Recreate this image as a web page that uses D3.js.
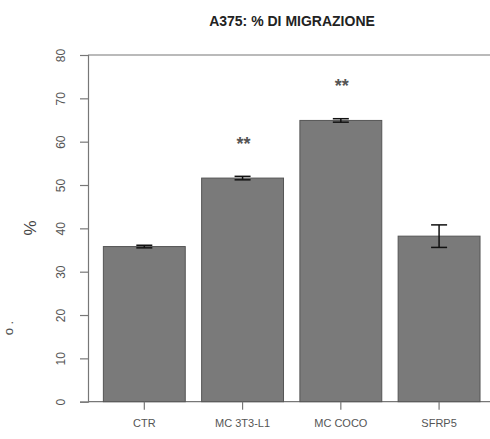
<!DOCTYPE html>
<html><head><meta charset="utf-8">
<script src="https://cdn.jsdelivr.net/npm/d3@7"></script>
<style>body{margin:0;background:#fff}svg{display:block}</style>
</head><body>
<script>
const categories = ["CTR", "MC 3T3-L1", "MC COCO", "SFRP5"];
const values = [35.8, 51.6, 64.9, 38.2];
const errors = [0.3, 0.4, 0.4, 2.6];
const stars = ["", "**", "**", ""];
const yTicks = [0, 10, 20, 30, 40, 50, 60, 70, 80];
const title = "A375: % DI MIGRAZIONE";
const yLabel = "%";

const W = 490, H = 439;
const svg = d3.select("body").append("svg").attr("width", W).attr("height", H);
const font = "'Liberation Sans', Arial, sans-serif";

const y = d3.scaleLinear().domain([0, 80]).range([401.7, 55]);
const x = d3.scaleBand().domain(categories).range([87, 496.4])
  .paddingInner(0.2/1.2).paddingOuter(0.2/1.2);

// title
svg.append("text").attr("x", 292).attr("y", 26).attr("text-anchor", "middle")
  .attr("font-family", font).attr("font-weight", "bold").attr("font-size", 14)
  .attr("fill", "#222").text(title);

// top line & baseline
svg.append("line").attr("x1", 88).attr("x2", 490).attr("y1", y(80)).attr("y2", y(80))
  .attr("stroke", "#777").attr("stroke-width", 1.2);
svg.append("line").attr("x1", 88).attr("x2", 490).attr("y1", y(0)).attr("y2", y(0))
  .attr("stroke", "#777").attr("stroke-width", 1.2);

// bars
svg.selectAll("rect.bar").data(categories).join("rect").attr("class", "bar")
  .attr("x", d => x(d)).attr("width", x.bandwidth())
  .attr("y", (d, i) => y(values[i])).attr("height", (d, i) => y(0) - y(values[i]))
  .attr("fill", "#7a7a7a").attr("stroke", "#555").attr("stroke-width", 1);

// error bars
const eb = svg.append("g").attr("stroke", "#111").attr("stroke-width", 1.5);
categories.forEach((c, i) => {
  const cx = x(c) + x.bandwidth() / 2;
  const hi = y(values[i] + errors[i]), lo = y(values[i] - errors[i]);
  eb.append("line").attr("x1", cx).attr("x2", cx).attr("y1", hi).attr("y2", lo);
  eb.append("line").attr("x1", cx - 8).attr("x2", cx + 8).attr("y1", hi).attr("y2", hi);
  eb.append("line").attr("x1", cx - 8).attr("x2", cx + 8).attr("y1", lo).attr("y2", lo);
});

// stars
svg.selectAll("text.star").data(categories).join("text").attr("class", "star")
  .attr("x", d => x(d) + x.bandwidth() / 2 + 1)
  .attr("y", (d, i) => y(values[i]) - 28)
  .attr("text-anchor", "middle").attr("font-family", font).attr("font-size", 18)
  .attr("font-weight", "bold").attr("fill", "#555")
  .text((d, i) => stars[i]);

// y axis
const yAxis = d3.axisLeft(y).tickValues(yTicks).tickSize(8).tickPadding(20);
const gy = svg.append("g").attr("transform", "translate(88,0)").call(yAxis);
gy.select(".domain").attr("stroke", "#777").attr("stroke-width", 1.2);
gy.selectAll(".tick line").attr("stroke", "#777").attr("stroke-width", 1.2);
gy.selectAll(".tick text").attr("font-family", font).attr("font-size", 12).attr("fill", "#555")
  .attr("text-anchor", "middle").attr("x", 0).attr("y", 0)
  .attr("transform", "translate(-27,0) rotate(-90)").attr("dy", "0.35em");

// x axis ticks
const xAxis = d3.axisBottom(x).tickSize(8).tickPadding(10);
const gx = svg.append("g").attr("transform", `translate(0,${y(0)})`).call(xAxis);
gx.select(".domain").remove();
gx.selectAll(".tick line").attr("stroke", "#777").attr("stroke-width", 1.2);
gx.selectAll(".tick text").attr("font-family", font).attr("font-size", 11).attr("fill", "#555");

// y label
svg.append("text").attr("transform", "translate(30,228) rotate(-90)")
  .attr("text-anchor", "middle").attr("dy", "0.35em")
  .attr("font-family", font).attr("font-size", 17).attr("fill", "#444").text(yLabel);

// leftover glyph at left edge
svg.append("text").attr("transform", "translate(8,328) rotate(-90)")
  .attr("text-anchor", "middle").attr("dy", "0.35em")
  .attr("font-family", font).attr("font-size", 13).attr("fill", "#555").text("o .");
</script>
</body></html>
